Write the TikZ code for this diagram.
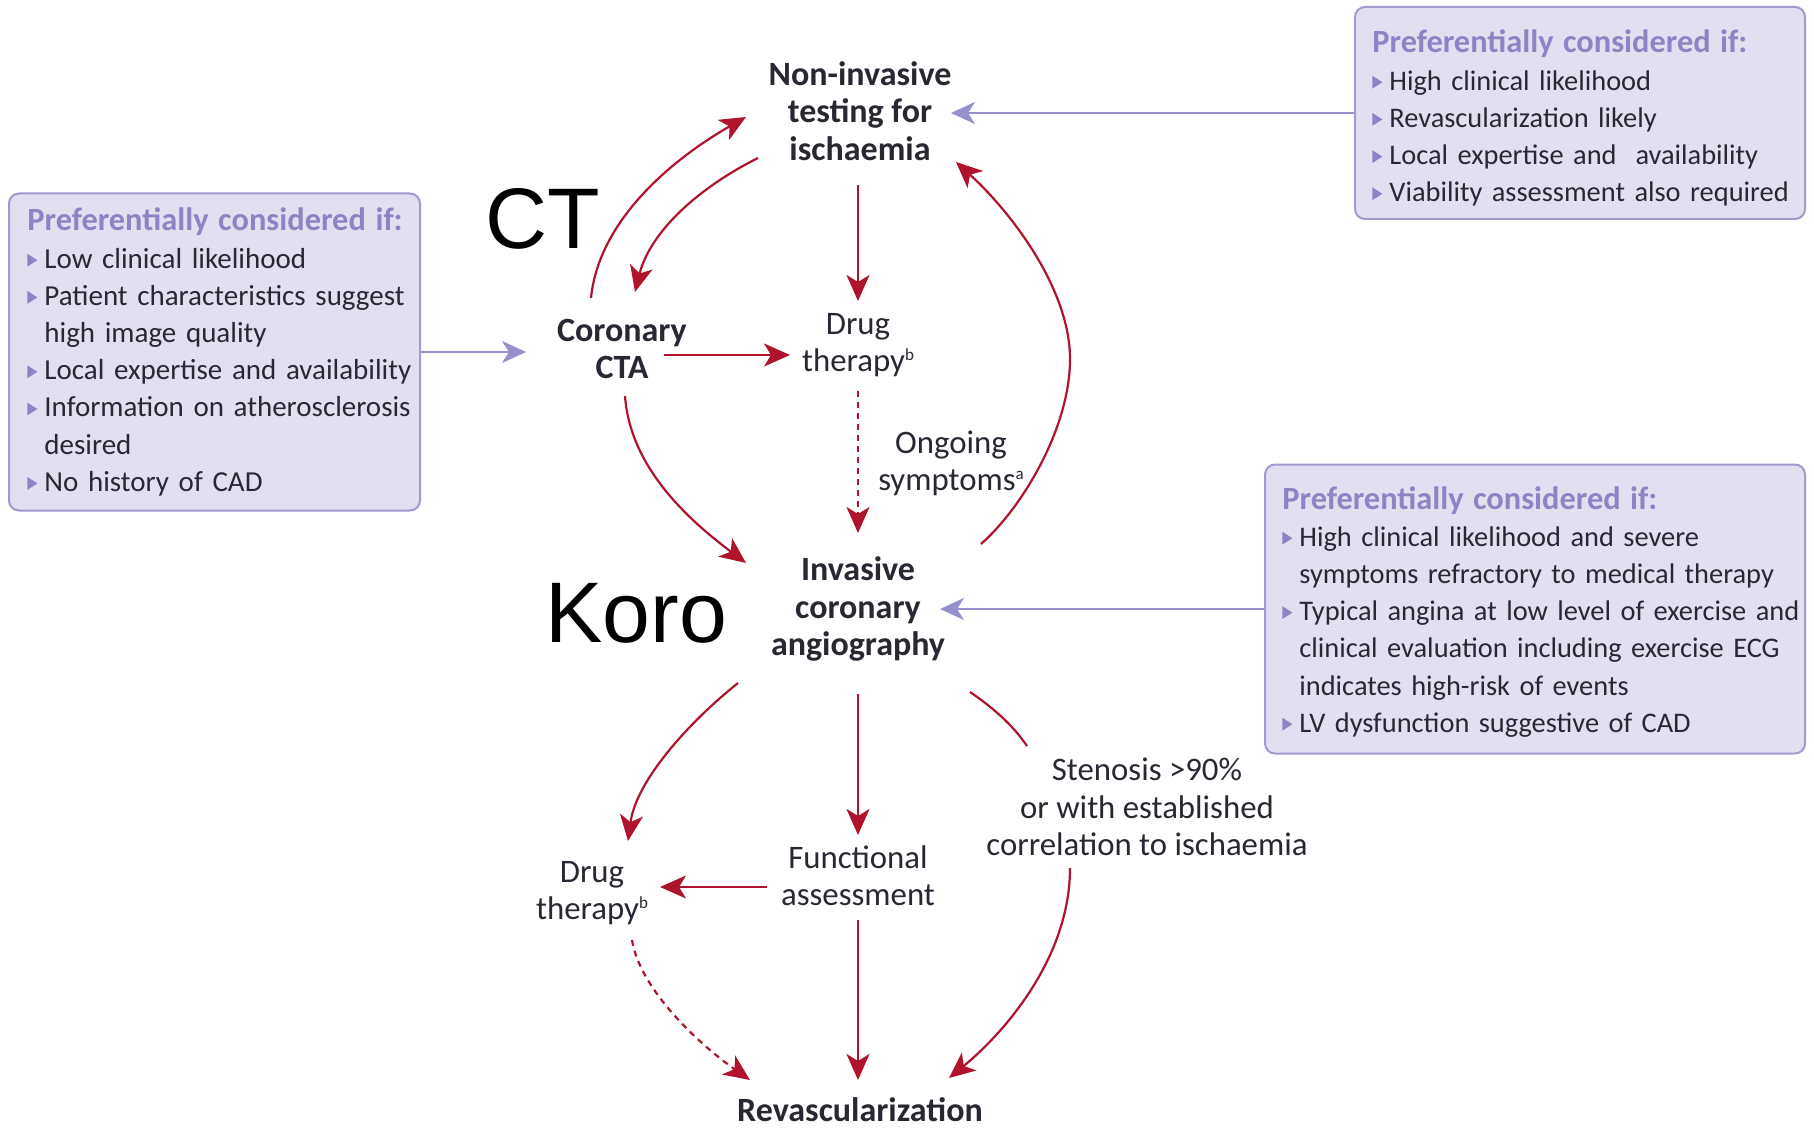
\documentclass[tikz,border=0pt]{standalone}
\usepackage{fontspec}
\setmainfont{Carlito}
\newfontfamily\arialf{Liberation Sans}
\usetikzlibrary{arrows.meta}
\definecolor{arrred}{RGB}{176,20,45}
\definecolor{boxfill}{RGB}{226,224,240}
\definecolor{boxline}{RGB}{160,154,206}
\definecolor{titlec}{RGB}{140,132,196}
\definecolor{arrpur}{RGB}{150,144,204}
\definecolor{txt}{RGB}{40,40,50}
\newcommand\bultri{\tikz[baseline=0pt]\fill[titlec] (0pt,0.8pt)--(0pt,7.2pt)--(5pt,4pt)--cycle;}
\newcommand\bitem[1]{\par\hangindent=8.5pt\hangafter=1\noindent\makebox[8.5pt][l]{\bultri}#1}
\newcommand\supl[1]{\raisebox{5.5pt}{\fontsize{8.5}{8.5}\selectfont #1}}
\begin{document}
\begin{tikzpicture}[x=0.5pt,y=-0.5pt,
  redarrow/.style={draw=arrred, line width=1.1pt, -{Stealth[length=13pt,width=11.5pt,inset=3.5pt]}},
  redline/.style={draw=arrred, line width=1.1pt},
  purarrow/.style={draw=arrpur, line width=1pt, -{Stealth[length=12pt,width=11pt,inset=3.5pt]}},
  dashedarrow/.style={redarrow, dash pattern=on 3pt off 2.5pt},
  mainbold/.style={font=\fontsize{17}{18.6}\selectfont\bfseries, text=txt, align=center, inner sep=0pt},
  mainreg/.style={font=\fontsize{16.4}{18.6}\selectfont, text=txt, align=center, inner sep=0pt},
  infobox/.style={draw=boxline, fill=boxfill, line width=1pt, rounded corners=5pt, inner sep=0pt},
  infotext/.style={anchor=base west, inner sep=0pt, text width=280pt, align=left, text=txt, font=\fontsize{14.2}{18.6}\selectfont},
  bigl/.style={anchor=base west, inner sep=0pt, font=\arialf\fontsize{43}{43}\selectfont, text=black}
]
\fill[white] (0,0) rectangle (1814,1128);
\useasboundingbox (0,0) rectangle (1814,1128);

% info boxes
\node[infobox, minimum width=205.5pt, minimum height=158.5pt] (lbox) at (214.5,352) {};
\node[infobox, minimum width=225pt, minimum height=106pt] (tbox) at (1580,113) {};
\node[infobox, minimum width=270pt, minimum height=144.5pt] (rbox) at (1535,609) {};

\node[infotext, font=\fontsize{14.5}{18.6}\selectfont] (ltext) at (27,231) {\noindent\textcolor{titlec}{\bfseries\fontsize{16.2}{18.6}\selectfont Preferentially considered if:}
\bitem{Low clinical likelihood}
\bitem{Patient characteristics suggest\newline high image quality}
\bitem{Local expertise and availability}
\bitem{Information on atherosclerosis\newline desired}
\bitem{No history of CAD}\par};

\node[infotext] (ttext) at (1372,53) {\noindent\textcolor{titlec}{\bfseries\fontsize{16.2}{18.6}\selectfont Preferentially considered if:}
\bitem{High clinical likelihood}
\bitem{Revascularization likely}
\bitem{Local expertise and\ \ availability}
\bitem{Viability assessment also required}\par};

\node[infotext] (rtext) at (1282,509) {\noindent\textcolor{titlec}{\bfseries\fontsize{16.2}{18.6}\selectfont Preferentially considered if:}
\bitem{High clinical likelihood and severe\newline symptoms refractory to medical therapy}
\bitem{Typical angina at low level of exercise and\newline clinical evaluation including exercise ECG\newline indicates high-risk of events}
\bitem{LV dysfunction suggestive of CAD}\par};

% main nodes
\node[mainbold] (ni) at (860,111) {Non-invasive\\testing for\\ischaemia};
\node[mainbold] (cta) at (622,349) {Coronary\\CTA};
\node[mainreg] (dr1) at (858,345) {Drug\\therapy\supl{b}};
\node[mainreg] (ong) at (951,463) {Ongoing\\symptoms\supl{a}};
\node[mainbold] (ica) at (858,609) {Invasive\\coronary\\angiography};
\node[mainreg] (dr2) at (592,893) {Drug\\therapy\supl{b}};
\node[mainreg] (fa) at (858,876) {Functional\\assessment};
\node[mainreg] (sten) at (1147,807) {Stenosis >90\%\\or with established\\correlation to ischaemia};
\node[mainbold] (rev) at (860,1110) {Revascularization};

\node[bigl] (ct) at (485,249) {CT};
\node[bigl] (koro) at (545,642) {Koro};

% red connectors
\draw[redarrow] ([shift={(-31,-51)}]cta.center) .. controls +(8,-80) and +(-70,40) .. ([shift={(-114,6)}]ni.center);
\draw[redarrow] ([shift={(-102,47)}]ni.center) .. controls +(-60,30) and +(15,-60) .. ([shift={(13,-57)}]cta.center);
\draw[redarrow] ([shift={(-2,74)}]ni.center) -- ([shift={(0,-44)}]dr1.center);
\draw[redarrow] ([shift={(42,6)}]cta.center) -- ([shift={(-68,10)}]dr1.center);
\draw[dashedarrow] ([shift={(0,46)}]dr1.center) -- ([shift={(0,-76)}]ica.center);
\draw[redarrow] ([shift={(3,47)}]cta.center) .. controls +(5,70) and +(-60,-45) .. ([shift={(-112,-46)}]ica.center);
\draw[redarrow] ([shift={(123,-65)}]ica.center) .. controls +(40,-35) and +(0,70) .. ([shift={(212,-250)}]ica.center) .. controls +(0,-70) and +(55,50) .. ([shift={(96,51)}]ni.center);
\draw[redarrow] ([shift={(-120,74)}]ica.center) .. controls +(-50,40) and +(8,-60) .. ([shift={(36,-52)}]dr2.center);
\draw[redarrow] ([shift={(0,85)}]ica.center) -- ([shift={(0,-41)}]fa.center);
\draw[redarrow] ([shift={(-91,11)}]fa.center) -- ([shift={(68,-6)}]dr2.center);
\draw[redarrow] ([shift={(0,44)}]fa.center) -- ([shift={(-2,-30)}]rev.center);
\draw[dashedarrow] ([shift={(40,47)}]dr2.center) .. controls +(8,50) and +(-50,-35) .. ([shift={(-110,-30)}]rev.center);
\draw[redline] ([shift={(112,83)}]ica.center) .. controls +(22,15) and +(-15,-22) .. ([shift={(-120,-61)}]sten.center);
\draw[redarrow] ([shift={(-77,61)}]sten.center) .. controls +(0,90) and +(55,-45) .. ([shift={(89,-32)}]rev.center);

% purple connectors
\draw[purarrow] (tbox.west) -- ([shift={(91,2)}]ni.center);
\draw[purarrow] (lbox.east) -- ([shift={(-96,3)}]cta.center);
\draw[purarrow] (rbox.west) -- ([shift={(82,0)}]ica.center);
\end{tikzpicture}
\end{document}
